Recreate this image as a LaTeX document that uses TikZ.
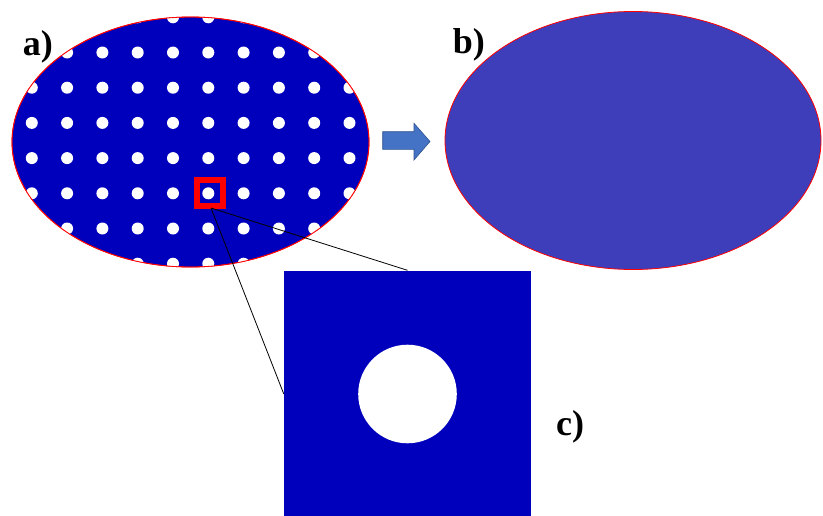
\documentclass[tikz,border=0pt]{standalone}
\usepackage{fontspec}
\setmainfont{Liberation Serif}
\usetikzlibrary{shapes.geometric}
\definecolor{poreblue}{RGB}{0,0,188}
\definecolor{effblue}{RGB}{62,62,186}
\definecolor{arrowblue}{RGB}{68,114,196}
\definecolor{arrowedge}{RGB}{47,82,143}
\begin{document}
\begin{tikzpicture}[
    x=1pt, y=-1pt,
    slab/.style={ellipse, draw=red, line width=0.8pt, inner sep=0pt},
    hole/.style={circle, fill=white, inner sep=0pt},
    lbl/.style={anchor=base west, inner sep=0pt, font=\fontsize{36}{40}\selectfont\bfseries},
    cellbox/.style={rectangle, fill=poreblue, inner sep=0pt, minimum size=247pt},
    zoombox/.style={rectangle, draw=red, line width=6pt, inner sep=0pt, minimum size=26.4pt}
]
\useasboundingbox (0,0) rectangle (823,515);

\node[slab, fill=poreblue, minimum width=357pt, minimum height=250pt] (porous) at (190.5,142) {};
\begin{scope}
    \clip (190.5,142) ellipse [x radius=178.5, y radius=125];
    \foreach \i in {-6,...,5}
        \foreach \j in {-5,...,2}
            \fill[white] (208.3+35.3*\i,193.3+35.2*\j) circle [radius=6];
\end{scope}
\node[slab, minimum width=357pt, minimum height=250pt] at (190.5,142) {};

\node[slab, fill=effblue, minimum width=376pt, minimum height=258pt] (effective) at (633,140.5) {};

\fill[arrowblue, draw=arrowedge, line width=0.6pt] (382.7,131.7) -- (414,131.7) -- (414,123.3)
    -- (430,141.5) -- (414,160) -- (414,149.3) -- (382.7,149.3) -- cycle;

\node[cellbox] (cell) at (407.5,394) {};
\node[hole, minimum size=98.6pt] (pore) at (cell.center) {};

\node[zoombox] (zoom) at (209.7,193.2) {};
\coordinate (zs) at (211,208);
\draw[black, line width=0.8pt] (zs) -- (cell.west);
\draw[black, line width=0.8pt] (zs) -- (cell.north);

\node[lbl] (la) at (22.7,55) {a)};
\node[lbl] (lb) at (452.7,53.3) {b)};
\node[lbl] (lc) at (556,435) {c)};
\end{tikzpicture}
\end{document}
